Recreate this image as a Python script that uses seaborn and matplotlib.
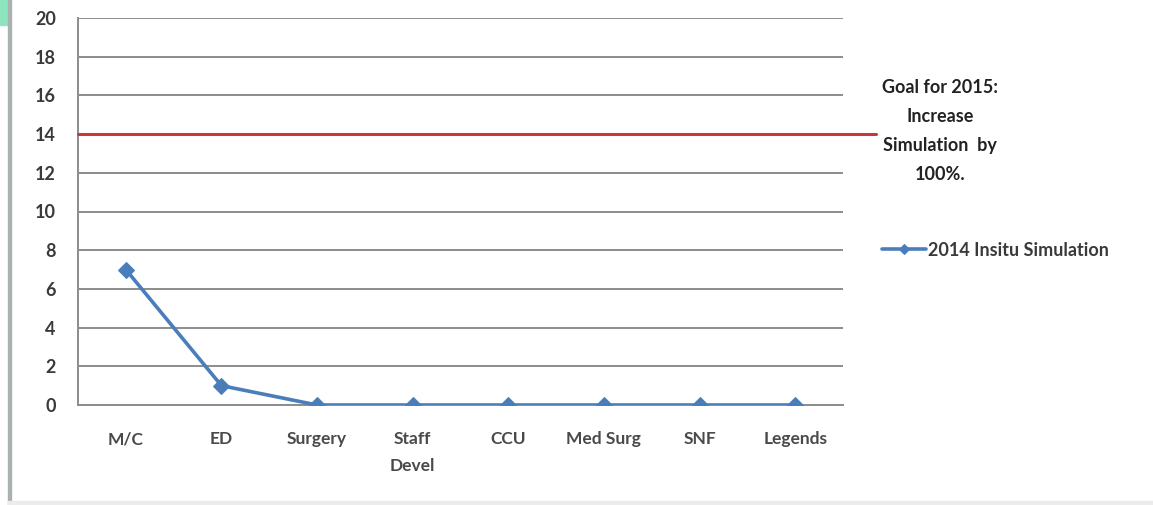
import matplotlib
matplotlib.use("Agg")
import matplotlib.pyplot as plt
from matplotlib.patches import Rectangle
import numpy as np
import seaborn as sns

categories = ["M/C", "ED", "Surgery", "Staff\nDevel", "CCU", "Med Surg", "SNF", "Legends"]
simulations_2014 = [7, 1, 0, 0, 0, 0, 0, 0]
goal_2015 = 14
y_ticks = list(range(0, 21, 2))
series_label = "2014 Insitu Simulation"
goal_text = "Goal for 2015:\nIncrease\nSimulation  by\n100%."

sns.set_theme(style="white")
plt.rcParams["font.family"] = ["Lato", "DejaVu Sans"]

text_color = "#3a3a3a"
grid_color = "#8c8c8c"
line_color = "#4A7EBB"

fig = plt.figure(figsize=(11.53, 5.05), dpi=100)
fig.patch.set_facecolor("white")

# slide frame: green corner, grey left edge and bottom edge
fig.patches.append(Rectangle((0, 1 - 25 / 505), 8 / 1153, 25 / 505,
                             transform=fig.transFigure, color="#8ee6bf", zorder=0))
fig.patches.append(Rectangle((8 / 1153, 0), 3 / 1153, 1,
                             transform=fig.transFigure, color="#a9b2b0", zorder=0))
fig.patches.append(Rectangle((8 / 1153, 0), 1 - 8 / 1153, 4 / 505,
                             transform=fig.transFigure, color="#ececec", zorder=0))

ax = fig.add_axes([78 / 1153, 1 - 405 / 505, (843 - 78) / 1153, (405 - 18) / 505])
ax.set_facecolor("white")

sns.lineplot(x=categories, y=simulations_2014, ax=ax, sort=False, color=line_color,
             linewidth=2.6, marker="D", markersize=8, markeredgecolor=line_color,
             label=series_label, zorder=4)

ax.set_xlim(-0.5, len(categories) - 0.5)
ax.set_ylim(0, 20)
ax.set_yticks(y_ticks)
ax.set_yticklabels([str(v) for v in y_ticks], fontsize=13, fontweight="bold", color=text_color)
ax.set_xticks(range(len(categories)))
ax.set_xticklabels(categories, fontsize=12.5, fontweight="bold", color="#4a4a4a",
                   linespacing=1.8)
ax.set_xticks(np.arange(0.5, len(categories) - 0.5, 1.0), minor=True)

ax.tick_params(axis="x", which="major", length=0, pad=19)
ax.tick_params(axis="x", which="minor", length=5, width=1.2, color=grid_color, direction="out")
ax.tick_params(axis="y", length=6, width=1.4, color=grid_color, direction="out", pad=10)

ax.yaxis.grid(True, color=grid_color, linewidth=1.4)
ax.xaxis.grid(False)
for side in ["top", "right"]:
    ax.spines[side].set_visible(False)
for side in ["left", "bottom"]:
    ax.spines[side].set_color(grid_color)
    ax.spines[side].set_linewidth(1.4)
ax.set_axisbelow(True)

# 2015 goal line, running slightly past the plot area
ax.axhline(goal_2015, xmin=0, xmax=(876 - 78) / (843 - 78), color="#c8373a",
           linewidth=2.2, clip_on=False, zorder=3)

fig.text(940 / 1153, 1 - 131 / 505, goal_text, ha="center", va="center",
         fontsize=13, fontweight="bold", color="#222222", linespacing=1.85)

leg = ax.legend(loc="center left", bbox_to_anchor=(866 / 1153, 1 - 250 / 505),
                bbox_transform=fig.transFigure, frameon=False, fontsize=13,
                handlelength=2.4, handletextpad=0.15, markerscale=0.7)
for t in leg.get_texts():
    t.set_color(text_color)
    t.set_fontweight("bold")

fig.savefig("out.png", dpi=100, facecolor="white")
